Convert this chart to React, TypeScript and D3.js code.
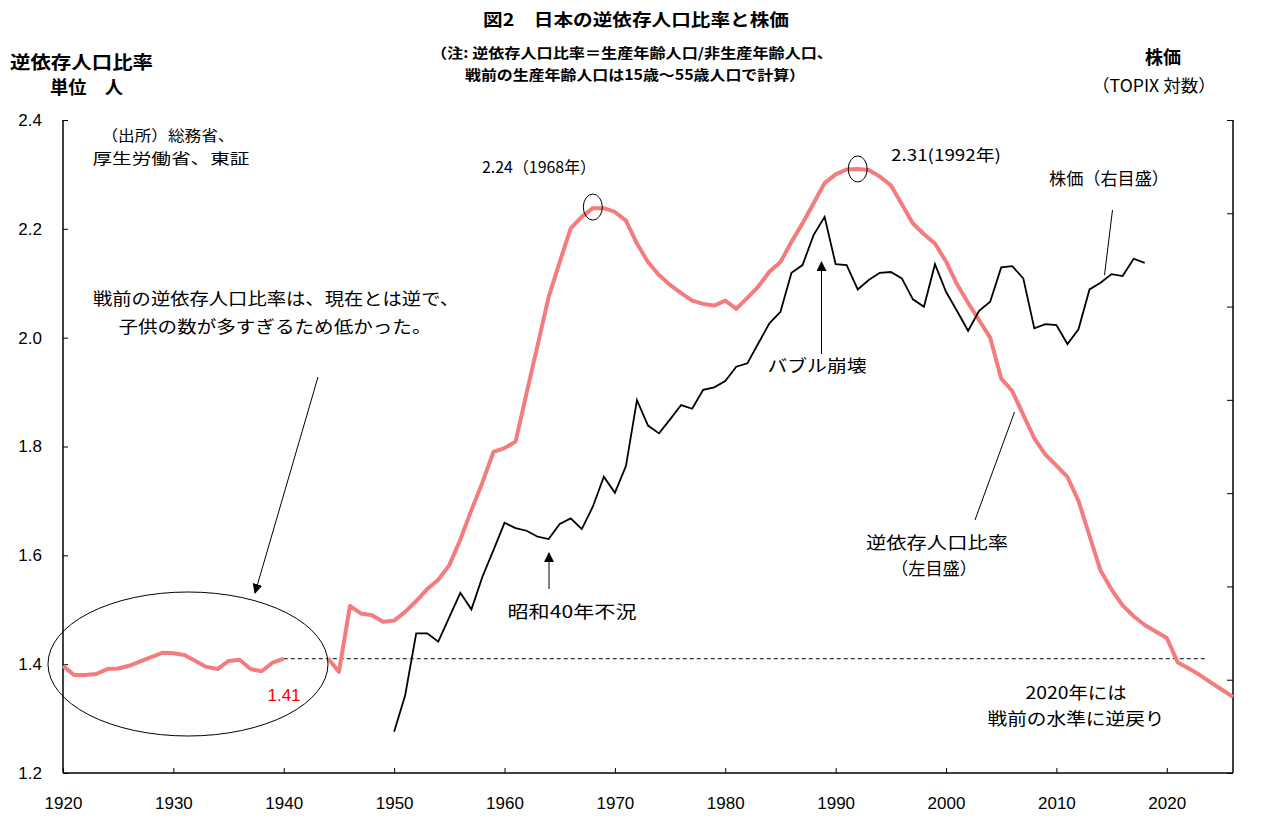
import React, { useEffect, useRef } from "react";
import * as d3 from "d3";

// 逆依存人口比率 (左目盛) 1920-2026, 1941-1943 はデータなし
const ratioYears: number[] = d3.range(1920, 2027);
const ratioValues: (number | null)[] = [
  1.397, 1.38, 1.38, 1.382, 1.391, 1.392, 1.397, 1.405, 1.413, 1.421,
  1.42, 1.417, 1.406, 1.395, 1.391, 1.406, 1.408, 1.391, 1.387, 1.403,
  1.41, null, null, null, 1.411, 1.386, 1.507, 1.493, 1.49, 1.478,
  1.48, 1.496, 1.516, 1.538, 1.555, 1.582, 1.629, 1.683, 1.734, 1.79,
  1.797, 1.809, 1.898, 1.986, 2.075, 2.139, 2.201, 2.222, 2.238, 2.238,
  2.231, 2.215, 2.173, 2.139, 2.115, 2.097, 2.082, 2.068, 2.062, 2.059,
  2.068, 2.053, 2.073, 2.094, 2.121, 2.139, 2.176, 2.21, 2.247, 2.284,
  2.3, 2.309, 2.31, 2.308, 2.296, 2.28, 2.245, 2.21, 2.19, 2.173,
  2.14, 2.098, 2.064, 2.032, 2.0, 1.925, 1.902, 1.858, 1.815, 1.785,
  1.765, 1.744, 1.7, 1.636, 1.572, 1.537, 1.508, 1.488, 1.472, 1.46,
  1.448, 1.403, 1.392, 1.38, 1.366, 1.353, 1.34,
];

// 株価 TOPIX (右目盛, 対数) 1950-2018
const stockYears: number[] = d3.range(1950, 2019);
const stockValues: number[] = [
  11.5, 17.0, 33.0, 33.0, 30.2, 39.3, 51.0, 42.7, 60.6, 80.6,
  108, 102, 99.2, 93.0, 90.7, 106.6, 113.3, 101, 128.3, 177,
  149, 198.4, 402.5, 306.3, 281.6, 327.2, 381.5, 366.8, 449.4, 461.2,
  493.4, 575.5, 596.6, 739.8, 916.2, 1037, 1575, 1711, 2358, 2868,
  1728, 1711, 1318, 1457, 1575, 1588, 1484, 1185, 1094, 1728,
  1285, 1045, 846, 1048, 1154, 1669, 1692, 1484, 868, 909,
  900, 734, 859, 1318, 1416, 1553, 1521, 1831, 1753,
];

const xTicks = [1920, 1930, 1940, 1950, 1960, 1970, 1980, 1990, 2000, 2010, 2020];
const leftTicks = [1.2, 1.4, 1.6, 1.8, 2.0, 2.2, 2.4];
const rightTickExps = [2, 3, 4, 5, 6, 7, 8, 9];

const prewarLevel = 1.41;
const peaks = [
  { year: 1968, value: 2.24 },
  { year: 1992, value: 2.31 },
];

const W = 1275;
const H = 831;
const JP = "'Noto Sans CJK JP', 'Liberation Sans', sans-serif";
const NUM = "'Liberation Sans', Arial, 'Noto Sans CJK JP', sans-serif";
const PINK = "#f47c7c";

const App: React.FC = () => {
  const svgRef = useRef<SVGSVGElement | null>(null);

  useEffect(() => {
    const svg = d3.select(svgRef.current);
    svg.selectAll("*").remove();

    const left = 63;
    const right = 1233;
    const top = 120;
    const bottom = 773;

    const x = d3.scaleLinear().domain([1920, 2026]).range([left, right]);
    const yL = d3.scaleLinear().domain([1.2, 2.4]).range([bottom, top]);
    const yR = d3
      .scaleLog()
      .domain([Math.exp(2), Math.exp(9)])
      .range([bottom, top]);

    const defs = svg.append("defs");
    defs
      .append("marker")
      .attr("id", "arr")
      .attr("viewBox", "0 0 10 10")
      .attr("refX", 9)
      .attr("refY", 5)
      .attr("markerWidth", 10)
      .attr("markerHeight", 10)
      .attr("markerUnits", "userSpaceOnUse")
      .attr("orient", "auto")
      .append("path")
      .attr("d", "M0,0 L10,5 L0,10 Z")
      .attr("fill", "#000");

    // axes
    const gx = svg
      .append("g")
      .attr("transform", `translate(0,${bottom})`)
      .call(d3.axisBottom(x).tickValues(xTicks).tickSize(-5).tickFormat(d3.format("d")));
    gx.selectAll("text")
      .attr("y", 24)
      .attr("font-size", 17)
      .attr("font-family", NUM)
      .attr("fill", "#000");

    const gl = svg
      .append("g")
      .attr("transform", `translate(${left},0)`)
      .call(d3.axisLeft(yL).tickValues(leftTicks).tickSize(-5).tickFormat(d3.format(".1f")));
    gl.selectAll("text")
      .attr("x", -21)
      .attr("font-size", 17)
      .attr("font-family", NUM)
      .attr("fill", "#000");

    const gr = svg
      .append("g")
      .attr("transform", `translate(${right},0)`)
      .call(
        d3
          .axisRight(yR)
          .tickValues(rightTickExps.map((e) => Math.exp(e)))
          .tickSize(-6)
          .tickFormat(() => "")
      );

    svg.selectAll(".tick line").attr("stroke", "#000");
    // plain axis lines without end caps
    gx.select(".domain").attr("d", `M${left},0H${right}`);
    gl.select(".domain").attr("d", `M0,${top}V${bottom}`);
    gr.select(".domain").attr("d", `M0,${top}V${bottom}`);
    svg.selectAll(".domain").attr("stroke", "#000").attr("stroke-width", 1.5);

    // prewar level dashed line
    svg
      .append("line")
      .attr("x1", x(1940))
      .attr("x2", x(2023.6))
      .attr("y1", yL(prewarLevel))
      .attr("y2", yL(prewarLevel))
      .attr("stroke", "#000")
      .attr("stroke-width", 1)
      .attr("stroke-dasharray", "4,3");

    // ratio line
    const ratioData = ratioYears.map((yr, i) => ({ yr, v: ratioValues[i] }));
    const ratioLine = d3
      .line<{ yr: number; v: number | null }>()
      .defined((d) => d.v !== null)
      .x((d) => x(d.yr))
      .y((d) => yL(d.v as number));
    svg
      .append("path")
      .datum(ratioData)
      .attr("d", ratioLine)
      .attr("fill", "none")
      .attr("stroke", PINK)
      .attr("stroke-width", 4)
      .attr("stroke-linejoin", "round");

    // stock line
    const stockData = stockYears.map((yr, i) => ({ yr, v: stockValues[i] }));
    const stockLine = d3
      .line<{ yr: number; v: number }>()
      .x((d) => x(d.yr))
      .y((d) => yR(d.v));
    svg
      .append("path")
      .datum(stockData)
      .attr("d", stockLine)
      .attr("fill", "none")
      .attr("stroke", "#000")
      .attr("stroke-width", 1.8);

    // peak circles
    svg
      .selectAll(".peak")
      .data(peaks)
      .enter()
      .append("ellipse")
      .attr("cx", (d) => x(d.year))
      .attr("cy", (d) => yL(d.value))
      .attr("rx", 9.5)
      .attr("ry", 13)
      .attr("fill", "none")
      .attr("stroke", "#000")
      .attr("stroke-width", 1);

    // prewar ellipse
    svg
      .append("ellipse")
      .attr("cx", 188)
      .attr("cy", 664)
      .attr("rx", 140)
      .attr("ry", 72)
      .attr("fill", "none")
      .attr("stroke", "#000")
      .attr("stroke-width", 1);

    // arrows and leaders
    const lines: [number, number, number, number, boolean][] = [
      [318, 377, 255, 593, true],
      [821.5, 354, 821.5, 262, true],
      [549, 589, 549, 553, true],
      [1112.5, 210, 1104.5, 275, false],
      [1014.5, 412, 975, 520, false],
    ];
    lines.forEach(([x1, y1, x2, y2, arrow]) => {
      const l = svg
        .append("line")
        .attr("x1", x1)
        .attr("y1", y1)
        .attr("x2", x2)
        .attr("y2", y2)
        .attr("stroke", "#000")
        .attr("stroke-width", 1);
      if (arrow) l.attr("marker-end", "url(#arr)");
    });

    // texts
    const texts: {
      t: string;
      x: number;
      y: number;
      size: number;
      anchor?: string;
      w?: number;
      weight?: string;
      fill?: string;
      font?: string;
    }[] = [
      { t: "図2\u3000日本の逆依存人口比率と株価", x: 636, y: 26, size: 17, anchor: "middle", w: 306, weight: "bold" },
      { t: "（注: 逆依存人口比率＝生産年齢人口/非生産年齢人口、", x: 632, y: 58, size: 14, anchor: "middle", w: 402, weight: "bold" },
      { t: "戦前の生産年齢人口は15歳～55歳人口で計算）", x: 635, y: 80, size: 14, anchor: "middle", w: 340, weight: "bold" },
      { t: "逆依存人口比率", x: 10, y: 69, size: 18, w: 143, weight: "bold" },
      { t: "単位\u3000人", x: 50, y: 94, size: 18, w: 73, weight: "bold" },
      { t: "株価", x: 1163, y: 64, size: 18, anchor: "middle", weight: "bold" },
      { t: "（TOPIX 対数）", x: 1154, y: 92, size: 17, anchor: "middle", w: 124 },
      { t: "（出所）総務省、", x: 168, y: 141, size: 15, anchor: "middle", w: 133 },
      { t: "厚生労働省、東証", x: 171, y: 164, size: 15, anchor: "middle", w: 157 },
      { t: "2.24（1968年）", x: 539, y: 173, size: 16, anchor: "middle", w: 114 },
      { t: "2.31(1992年)", x: 946, y: 161, size: 16, anchor: "middle", w: 110 },
      { t: "株価（右目盛）", x: 1109, y: 185, size: 17, anchor: "middle", w: 120 },
      { t: "戦前の逆依存人口比率は、現在とは逆で、", x: 276, y: 305, size: 17, anchor: "middle", w: 366 },
      { t: "子供の数が多すぎるため低かった。", x: 275, y: 333, size: 17, anchor: "middle", w: 313 },
      { t: "1.41", x: 284, y: 701, size: 17, anchor: "middle", fill: "#ff0000", font: NUM },
      { t: "バブル崩壊", x: 817, y: 372, size: 17, anchor: "middle", w: 99 },
      { t: "昭和40年不況", x: 572, y: 618, size: 17, anchor: "middle", w: 129 },
      { t: "逆依存人口比率", x: 937, y: 549, size: 17, anchor: "middle", w: 142 },
      { t: "（左目盛）", x: 934, y: 575, size: 17, anchor: "middle", w: 86 },
      { t: "2020年には", x: 1076, y: 699, size: 17, anchor: "middle", w: 101 },
      { t: "戦前の水準に逆戻り", x: 1076, y: 725, size: 17, anchor: "middle", w: 177 },
    ];
    texts.forEach((d) => {
      const el = svg
        .append("text")
        .attr("x", d.x)
        .attr("y", d.y)
        .attr("font-size", d.size)
        .attr("font-family", d.font || JP)
        .attr("font-weight", d.weight || "normal")
        .attr("fill", d.fill || "#000")
        .attr("text-anchor", d.anchor || "start")
        .text(d.t);
      if (d.w) el.attr("textLength", d.w).attr("lengthAdjust", "spacingAndGlyphs");
    });
  }, []);

  return (
    <div style={{ position: "absolute", left: 0, top: 0, background: "#fff" }}>
      <svg ref={svgRef} width={W} height={H} style={{ display: "block" }}></svg>
    </div>
  );
};

export default App;
